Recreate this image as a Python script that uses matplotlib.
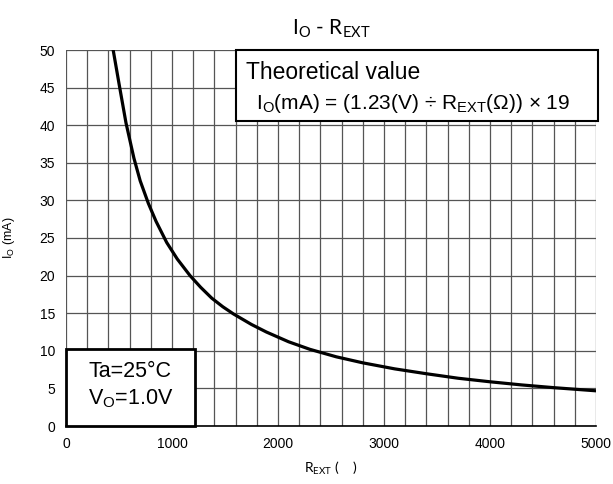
import matplotlib
matplotlib.use("Agg")
import matplotlib.pyplot as plt
from matplotlib.patches import Rectangle
from matplotlib.ticker import MultipleLocator

# values
r_ext = [445, 503, 566, 641, 700, 777, 850, 950, 1050, 1170, 1270, 1375, 1480,
         1580, 1750, 1890, 2100, 2300, 2550, 2800, 3100, 3400, 3700, 4000,
         4300, 4600, 5000]
i_out = [50.0, 45.3, 40.3, 35.6, 32.6, 29.6, 27.2, 24.4, 22.2, 20.0, 18.45,
         17.0, 15.85, 14.9, 13.5, 12.5, 11.2, 10.2, 9.2, 8.4, 7.6, 6.95, 6.35,
         5.88, 5.46, 5.1, 4.68]

x_ticks = [0, 1000, 2000, 3000, 4000, 5000]
y_ticks = [0, 5, 10, 15, 20, 25, 30, 35, 40, 45, 50]

plt.rcParams["font.family"] = ["Liberation Sans", "DejaVu Sans"]

fig = plt.figure(figsize=(6.13, 4.84), dpi=100)
ax = fig.add_axes([66 / 613, 1 - 426 / 484, 530 / 613, 376 / 484])

ax.plot(r_ext, i_out, color="black", linewidth=2.3, zorder=3)

ax.set_xlim(0, 5000)
ax.set_ylim(0, 50)
ax.set_xticks(x_ticks)
ax.set_yticks(y_ticks)
ax.xaxis.set_minor_locator(MultipleLocator(200))
ax.grid(True, which="both", axis="x", color="#555555", linewidth=0.9)
ax.grid(True, which="major", axis="y", color="#555555", linewidth=0.9)
ax.tick_params(axis="both", which="both", length=0, labelsize=10, pad=8)
for s in ax.spines.values():
    s.set_visible(False)
ax.spines["bottom"].set_visible(True)
ax.spines["bottom"].set_linewidth(1.2)

ax.set_title(r"I$_\mathregular{O}$ - R$_\mathregular{EXT}$", family="Lato",
             fontsize=15, pad=11)
ax.set_xlabel(r"R$_\mathregular{EXT}$ (    )", family="Lato", fontsize=10, labelpad=6)
ax.set_ylabel(r"I$_\mathregular{O}$ (mA)", fontsize=9, labelpad=16)

# theoretical value box
ax.add_patch(Rectangle((1600, 40.5), 3420, 9.5, facecolor="white",
                       edgecolor="black", linewidth=1.5, zorder=4, clip_on=False))
ax.text(1700, 47.0, "Theoretical value", fontsize=16.5, va="center", zorder=5)
ax.text(1790, 42.9,
        r"I$_\mathregular{O}$(mA) = (1.23(V) ÷ R$_\mathregular{EXT}$(Ω)) × 19",
        fontsize=15, va="center", zorder=5)

# conditions box
ax.add_patch(Rectangle((0, 0), 1215, 10.3, facecolor="white",
                       edgecolor="black", linewidth=2, zorder=4, clip_on=False))
ax.text(607, 7.2, "Ta=25°C", fontsize=15.5, ha="center", va="center", zorder=5)
ax.text(607, 3.6, r"V$_\mathregular{O}$=1.0V", fontsize=15.5, ha="center",
        va="center", zorder=5)

fig.savefig("out.png", dpi=100)
